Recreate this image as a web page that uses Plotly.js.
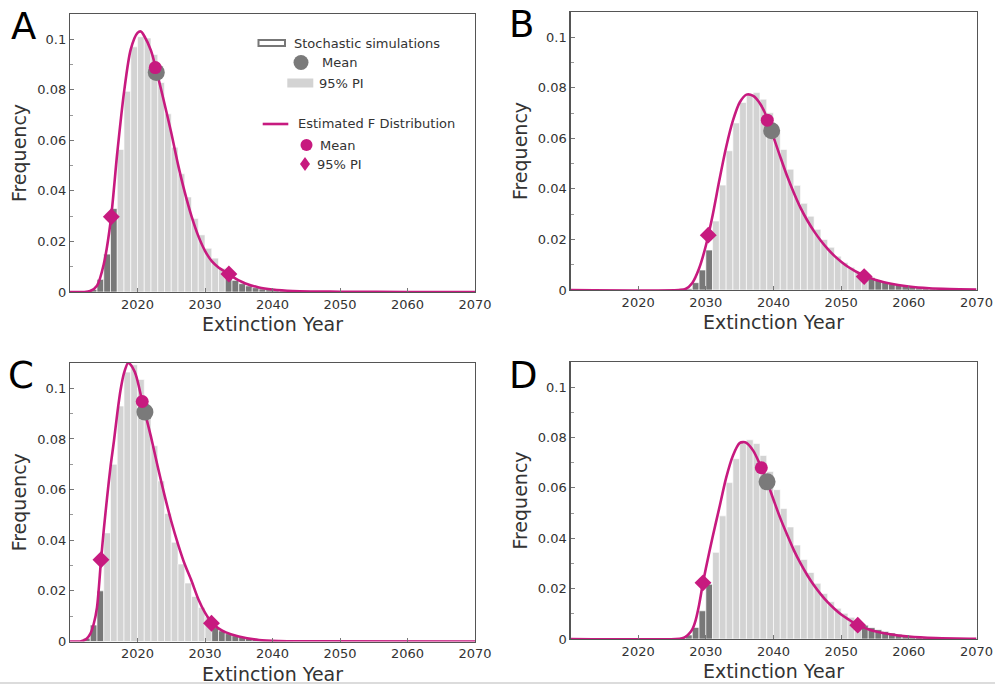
<!DOCTYPE html>
<html>
<head>
<meta charset="utf-8">
<script src="https://cdn.plot.ly/plotly-3.0.1.min.js"></script>
<style>html,body{margin:0;padding:0;background:#fff;}#chart{width:995px;height:688px;}</style>
</head>
<body>
<div id="chart"></div>
<script>
// ---------- DATA ----------
const panelLetters = ["A", "B", "C", "D"];
const xTickVals = [2020, 2030, 2040, 2050, 2060, 2070];

// Panel A
const firstYearA = 2013;
const freqA = [0.001, 0.005, 0.015, 0.033, 0.0564, 0.0794, 0.097, 0.101, 0.1005, 0.094,
  0.0829, 0.0705, 0.0573, 0.0468, 0.0376, 0.0291, 0.0226, 0.0173, 0.0134, 0.0094,
  0.0061, 0.0046, 0.0033, 0.0024, 0.0017, 0.0012, 0.0009, 0.0006, 0.0004, 0.0003, 0.0002, 0.0001];
const piBinsA = [2017, 2032];
const curveXA = [2010, 2012, 2013, 2014, 2015, 2016, 2017, 2018, 2019, 2020, 2020.5, 2021, 2022, 2023, 2024, 2025, 2026, 2027, 2028, 2029, 2030, 2031, 2032, 2033, 2034, 2035, 2036, 2038, 2040, 2043, 2046, 2050, 2060, 2070];
const curveYA = [0, 0, 0.0004, 0.0025, 0.011, 0.0275, 0.055, 0.079, 0.096, 0.1025, 0.1031, 0.1013, 0.0955, 0.0855, 0.0745, 0.063, 0.0505, 0.0395, 0.0300, 0.0222, 0.0163, 0.0122, 0.0097, 0.0080, 0.0062, 0.0046, 0.0034, 0.0018, 0.0010, 0.0004, 0.0002, 0.0001, 0, 0];
const meanSimA = [2022.78, 0.0869];
const meanFA = [2022.63, 0.0888];
const piXA = [2016.12, 2033.54];
const piYA = [0.0298, 0.0071];

// Panel B
const firstYearB = 2027;
const freqB = [0.0005, 0.0029, 0.0079, 0.0158, 0.0273, 0.0415, 0.0551, 0.0661, 0.0742, 0.0771,
  0.0781, 0.0755, 0.0701, 0.0625, 0.0556, 0.0478, 0.0414, 0.0343, 0.0292, 0.024,
  0.020, 0.0169, 0.0134, 0.0109, 0.009, 0.0072, 0.0058, 0.0048, 0.0038, 0.003,
  0.0024, 0.0019, 0.0015, 0.0011, 0.0009, 0.0007, 0.0005, 0.0004, 0.0003, 0.0002, 0.0002, 0.0001, 0.0001];
const piBinsB = [2031, 2053];
const curveXB = [2010, 2026, 2027, 2028, 2029, 2030, 2031, 2032, 2033, 2034, 2035, 2036, 2037, 2038, 2039, 2040, 2041, 2042, 2043, 2044, 2045, 2046, 2047, 2048, 2049, 2050, 2051, 2052, 2053, 2054, 2055, 2057, 2060, 2063, 2066, 2070];
const curveYB = [0, 0, 0.0004, 0.0028, 0.0085, 0.0175, 0.0295, 0.0435, 0.0565, 0.067, 0.0742, 0.0773, 0.0768, 0.0738, 0.0685, 0.0605, 0.0527, 0.0452, 0.0385, 0.0325, 0.0275, 0.0232, 0.0195, 0.0163, 0.0135, 0.0112, 0.0092, 0.0076, 0.0062, 0.005, 0.0041, 0.0027, 0.0014, 0.0007, 0.0004, 0.0002];
const meanSimB = [2039.73, 0.063];
const meanFB = [2039.08, 0.0672];
const piXB = [2030.36, 2053.4];
const piYB = [0.0217, 0.0053];

// Panel C
const firstYearC = 2012;
const freqC = [0.0013, 0.0065, 0.020, 0.0429, 0.070, 0.093, 0.1064, 0.1093, 0.1035, 0.092,
  0.0773, 0.0634, 0.0506, 0.0392, 0.0306, 0.0231, 0.0178, 0.0134, 0.0097, 0.0055,
  0.0042, 0.0031, 0.0023, 0.0017, 0.0012, 0.0009, 0.0006, 0.0004, 0.0003, 0.0002, 0.0001];
const piBinsC = [2015, 2030];
const curveXC = [2010, 2011.5, 2012, 2012.5, 2013, 2013.5, 2014, 2014.6, 2015, 2015.5, 2016, 2016.5, 2017, 2017.5, 2018, 2018.6, 2019, 2019.6, 2020, 2020.7, 2021, 2022, 2023, 2024, 2025, 2026, 2027, 2028, 2029, 2030, 2031, 2032, 2033, 2035, 2038, 2041, 2045, 2070];
const curveYC = [0, 0, 0.0004, 0.0012, 0.003, 0.0068, 0.0135, 0.0323, 0.044, 0.057, 0.069, 0.079, 0.090, 0.0995, 0.106, 0.110, 0.1093, 0.1064, 0.103, 0.0948, 0.0915, 0.0808, 0.069, 0.0578, 0.0475, 0.0385, 0.0305, 0.024, 0.0168, 0.0114, 0.0075, 0.0052, 0.0037, 0.002, 0.0006, 0.0002, 0.0001, 0];
const meanSimC = [2021.1, 0.0906];
const meanFC = [2020.7, 0.0948];
const piXC = [2014.59, 2030.96];
const piYC = [0.0323, 0.0072];

// Panel D
const firstYearD = 2026;
const freqD = [0.0004, 0.0016, 0.0046, 0.0112, 0.0217, 0.0344, 0.0489, 0.0621, 0.0716, 0.0782,
  0.0791, 0.0776, 0.0729, 0.0665, 0.0593, 0.0518, 0.0445, 0.0373, 0.0316, 0.0264,
  0.0221, 0.0181, 0.0148, 0.0122, 0.0102, 0.0086, 0.0072, 0.0055, 0.0045, 0.0037,
  0.003, 0.0024, 0.0019, 0.0015, 0.0012, 0.001, 0.0008, 0.0006, 0.0005, 0.0004, 0.0003, 0.0002, 0.0002, 0.0001];
const piBinsD = [2031, 2052];
const curveXD = [2010, 2025.5, 2026.5, 2027, 2027.5, 2028, 2028.5, 2029, 2029.58, 2030, 2031, 2032, 2033, 2034, 2035, 2035.5, 2036, 2037, 2038, 2039, 2040, 2041, 2042, 2043, 2044, 2045, 2046, 2047, 2048, 2049, 2050, 2051, 2052, 2053, 2054, 2055, 2057, 2060, 2064, 2070];
const curveYD = [0, 0, 0.0003, 0.0009, 0.002, 0.0038, 0.0075, 0.0135, 0.0223, 0.028, 0.0405, 0.0522, 0.064, 0.0728, 0.0778, 0.0782, 0.0779, 0.0748, 0.0693, 0.0628, 0.0553, 0.048, 0.0415, 0.0353, 0.030, 0.0253, 0.0212, 0.0177, 0.0146, 0.012, 0.0097, 0.0079, 0.0062, 0.0049, 0.0039, 0.0031, 0.002, 0.001, 0.0004, 0.0001];
const meanSimD = [2039.05, 0.0624];
const meanFD = [2038.2, 0.068];
const piXD = [2029.58, 2052.45];
const piYD = [0.0223, 0.0055];

// ---------- STYLE ----------
const W = 995, H = 688;
const FONT = "DejaVu Sans";
const MAGENTA = "#c71a7f";
const LIGHT = "#d3d3d3";
const DARK = "#787878";
const MEAN_GRAY = "#7a7a7a";
const PX = x => x / W;
const PY = y => 1 - y / H;

const panels = [
  {first: firstYearA, freq: freqA, pi: piBinsA, cx: curveXA, cy: curveYA, ms: meanSimA, mf: meanFA, px: piXA, py: piYA,
   dom: {x: [70, 475], y: [14, 292]}, letter: [8.5, 3.5]},
  {first: firstYearB, freq: freqB, pi: piBinsB, cx: curveXB, cy: curveYB, ms: meanSimB, mf: meanFB, px: piXB, py: piYB,
   dom: {x: [570.5, 976.5], y: [12, 290]}, letter: [507, 1]},
  {first: firstYearC, freq: freqC, pi: piBinsC, cx: curveXC, cy: curveYC, ms: meanSimC, mf: meanFC, px: piXC, py: piYC,
   dom: {x: [70, 475], y: [363, 641.5]}, letter: [6, 352]},
  {first: firstYearD, freq: freqD, pi: piBinsD, cx: curveXD, cy: curveYD, ms: meanSimD, mf: meanFD, px: piXD, py: piYD,
   dom: {x: [570.5, 976.5], y: [362, 639]}, letter: [507, 351.5]}
];

const traces = [];
const layout = {
  width: W, height: H,
  margin: {l: 0, r: 0, t: 0, b: 0},
  paper_bgcolor: "#ffffff",
  plot_bgcolor: "#ffffff",
  showlegend: false,
  hovermode: false,
  font: {family: FONT, color: "#333"},
  shapes: [],
  annotations: []
};

panels.forEach((p, i) => {
  const sfx = i === 0 ? "" : String(i + 1);
  const xa = "x" + sfx, ya = "y" + sfx;
  const years = p.freq.map((_, k) => p.first + k);
  const colors = years.map(yr => (yr >= p.pi[0] && yr <= p.pi[1]) ? LIGHT : DARK);
  traces.push({
    type: "bar", x: years, y: p.freq, width: 1, offset: 0,
    marker: {color: colors, line: {color: "rgba(255,255,255,0.9)", width: 0.7}},
    xaxis: xa, yaxis: ya, hoverinfo: "skip"
  });
  traces.push({
    type: "scatter", mode: "lines", x: p.cx, y: p.cy,
    line: {color: MAGENTA, width: 2.6, shape: "spline", smoothing: 0.8},
    cliponaxis: false, xaxis: xa, yaxis: ya
  });
  traces.push({
    type: "scatter", mode: "markers", x: [p.ms[0]], y: [p.ms[1]],
    marker: {color: MEAN_GRAY, size: 17, line: {width: 0}},
    xaxis: xa, yaxis: ya
  });
  traces.push({
    type: "scatter", mode: "markers", x: [p.mf[0]], y: [p.mf[1]],
    marker: {color: MAGENTA, size: 13, line: {width: 0}},
    xaxis: xa, yaxis: ya
  });
  traces.push({
    type: "scatter", mode: "markers", x: p.px, y: p.py,
    marker: {color: MAGENTA, size: 13, symbol: "diamond", line: {width: 0}},
    xaxis: xa, yaxis: ya
  });

  layout["xaxis" + sfx] = {
    domain: [PX(p.dom.x[0]), PX(p.dom.x[1])],
    anchor: ya,
    range: [2010, 2070],
    tickmode: "array", tickvals: xTickVals,
    ticks: "inside", ticklen: 4, tickwidth: 1, tickcolor: "#777",
    showline: true, mirror: true, linecolor: "#555", linewidth: 1.2,
    showgrid: false, zeroline: false,
    tickfont: {family: FONT, size: 13, color: "#333"},
    title: {text: "Extinction Year", font: {family: FONT, size: 19, color: "#333"}, standoff: 7}
  };
  layout["yaxis" + sfx] = {
    domain: [PY(p.dom.y[1]), PY(p.dom.y[0])],
    anchor: xa,
    range: [0, 0.11],
    tickmode: "linear", tick0: 0, dtick: 0.02,
    ticks: "inside", ticklen: 4, tickwidth: 1, tickcolor: "#777",
    minor: {dtick: 0.01, ticks: "inside", ticklen: 3, tickcolor: "#999", tickwidth: 1, showgrid: false},
    showline: true, mirror: true, linecolor: "#555", linewidth: 1.2,
    showgrid: false, zeroline: false,
    tickfont: {family: FONT, size: 13, color: "#333"},
    title: {text: "Frequency", font: {family: FONT, size: 19, color: "#333"}, standoff: 5}
  };

  layout.annotations.push({
    xref: "paper", yref: "paper", x: PX(p.letter[0]), y: PY(p.letter[1]),
    xanchor: "left", yanchor: "top", showarrow: false,
    text: panelLetters[i], font: {family: FONT, size: 37, color: "#000"}
  });
});

// ---------- legend of panel A (drawn as shapes + text) ----------
const legendTexts = [
  ["Stochastic simulations", 292, 43],
  ["Mean", 319.5, 62.5],
  ["95% PI", 316.5, 83],
  ["Estimated F Distribution", 295.5, 123.5],
  ["Mean", 318, 145],
  ["95% PI", 314.5, 164]
];
legendTexts.forEach(t => layout.annotations.push({
  xref: "paper", yref: "paper", x: PX(t[1]), y: PY(t[2]),
  xanchor: "left", yanchor: "middle", showarrow: false,
  text: t[0], font: {family: FONT, size: 13, color: "#333"}
}));
layout.shapes.push(
  {type: "rect", xref: "paper", yref: "paper", x0: PX(258.5), x1: PX(285), y0: PY(46), y1: PY(40),
   line: {color: "#777", width: 2}, fillcolor: "rgba(0,0,0,0)"},
  {type: "circle", xref: "paper", yref: "paper", x0: PX(293.5), x1: PX(308.5), y0: PY(70), y1: PY(55),
   line: {width: 0}, fillcolor: MEAN_GRAY},
  {type: "rect", xref: "paper", yref: "paper", x0: PX(287.3), x1: PX(313.3), y0: PY(87.5), y1: PY(78.5),
   line: {width: 0}, fillcolor: LIGHT},
  {type: "line", xref: "paper", yref: "paper", x0: PX(262.7), x1: PX(288.3), y0: PY(124), y1: PY(124),
   line: {color: MAGENTA, width: 2.6}},
  {type: "circle", xref: "paper", yref: "paper", x0: PX(300.5), x1: PX(312.5), y0: PY(151), y1: PY(139),
   line: {width: 0}, fillcolor: MAGENTA},
  {type: "path", xref: "paper", yref: "paper",
   path: `M ${PX(305)} ${PY(157)} L ${PX(310)} ${PY(164)} L ${PX(305)} ${PY(171)} L ${PX(300)} ${PY(164)} Z`,
   line: {width: 0}, fillcolor: MAGENTA},
  {type: "line", xref: "paper", yref: "paper", x0: 0, x1: 1, y0: PY(683), y1: PY(683),
   line: {color: "#d0d0d0", width: 1.5}}
);

Plotly.newPlot("chart", traces, layout, {displayModeBar: false, staticPlot: true});
</script>
</body>
</html>
